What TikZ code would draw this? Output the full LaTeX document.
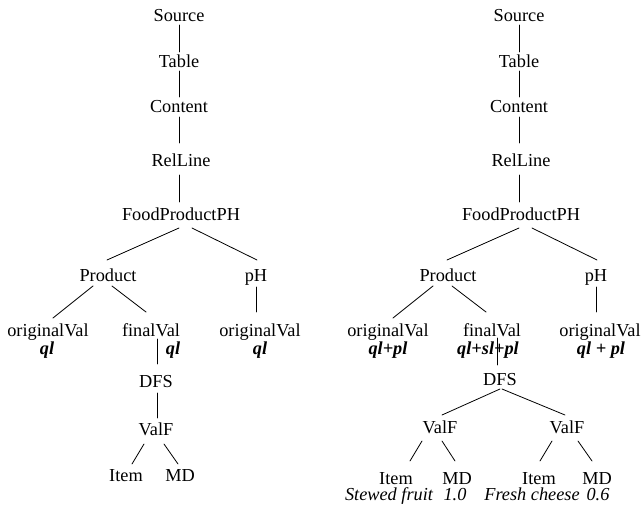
\documentclass[tikz,border=0pt]{standalone}
\usepackage{fontspec}
\setmainfont{Liberation Serif}
\usepackage{tikz}
\newcommand{\treefont}{\fontsize{18.3}{21}\selectfont}
\tikzset{
  nodetxt/.style={inner sep=0pt, text height=12pt, text depth=0pt, font=\treefont},
  valtxt/.style={nodetxt, font=\treefont\bfseries\itshape},
  extxt/.style={nodetxt, font=\treefont\itshape},
  branchln/.style={line width=0.8pt, line cap=round},
}
% connector between two named nodes, ends shifted off their centres
\newcommand{\branch}[4]{%
  \draw[branchln] ([shift={#2}]#1.center) -- ([shift={#4}]#3.center);
}

\begin{document}
\begin{tikzpicture}[x=1pt, y=-1pt]
    \useasboundingbox (0,0) rectangle (644,505);
    % left tree
    \node[nodetxt] (lsrc) at (179,16) {Source};
    \node[nodetxt] (ltab) at (179,62) {Table};
    \node[nodetxt] (lcon) at (179,107) {Content};
    \node[nodetxt] (lrel) at (181,160) {RelLine};
    \node[nodetxt] (lfood) at (181,214) {FoodProductPH};
    \node[nodetxt] (lprod) at (108,275) {Product};
    \node[nodetxt] (lph) at (256,275) {pH};
    \node[nodetxt] (lorig) at (48,330) {originalVal};
    \node[nodetxt] (lfin) at (151,330) {finalVal};
    \node[nodetxt] (lorigph) at (260,330) {originalVal};
    \node[nodetxt] (ldfs) at (156,381) {DFS};
    \node[nodetxt] (lvalf) at (156,429) {ValF};
    \node[nodetxt] (litem) at (126,475) {Item};
    \node[nodetxt] (lmd) at (180,475) {MD};
    % values of the left tree
    \node[valtxt] (lorigq) at (47,348) {ql};
    \node[valtxt] (lfinq) at (173,348) {ql};
    \node[valtxt] (lorigphq) at (260,348) {ql};
    \branch{lsrc}{(0,9)}{ltab}{(0,-10)}
    \branch{ltab}{(0,9)}{lcon}{(0,-10)}
    \branch{lcon}{(0,10)}{lrel}{(-2,-17)}
    \branch{lrel}{(-2,15)}{lfood}{(-2,-12)}
    \branch{lfood}{(-2,14)}{lprod}{(-1,-15)}
    \branch{lfood}{(11,14)}{lph}{(1,-15)}
    \branch{lprod}{(-15,11)}{lorig}{(5,-12)}
    \branch{lprod}{(4,11)}{lfin}{(-5,-18)}
    \branch{lph}{(0,12)}{lorigph}{(-4,-18)}
    \branch{lfin}{(6,9)}{ldfs}{(1,-17)}
    \branch{ldfs}{(1,12)}{lvalf}{(1,-11)}
    \branch{lvalf}{(-12,15)}{litem}{(6,-11)}
    \branch{lvalf}{(8,15)}{lmd}{(-2,-11)}
    % right tree
    \node[nodetxt] (rsrc) at (519,16) {Source};
    \node[nodetxt] (rtab) at (519,62) {Table};
    \node[nodetxt] (rcon) at (519,107) {Content};
    \node[nodetxt] (rrel) at (521,160) {RelLine};
    \node[nodetxt] (rfood) at (521,214) {FoodProductPH};
    \node[nodetxt] (rprod) at (448,275) {Product};
    \node[nodetxt] (rph) at (596,275) {pH};
    \node[nodetxt] (rorig) at (388,330) {originalVal};
    \node[nodetxt] (rfin) at (492,330) {finalVal};
    \node[nodetxt] (rorigph) at (600,330) {originalVal};
    \node[nodetxt] (rdfs) at (500,379) {DFS};
    \node[nodetxt] (rvalfa) at (440,427) {ValF};
    \node[nodetxt] (rvalfb) at (567,427) {ValF};
    \node[nodetxt] (ritema) at (396,478) {Item};
    \node[nodetxt] (rmda) at (457,478) {MD};
    \node[nodetxt] (ritemb) at (539,478) {Item};
    \node[nodetxt] (rmdb) at (597,478) {MD};
    % values of the right tree
    \node[valtxt] (rorigq) at (388,348) {ql+pl};
    \node[valtxt] (rfinq) at (488,348) {ql+sl+pl};
    \node[valtxt] (rorigphq) at (601,348) {ql + pl};
    % examples under the leaves
    \node[extxt] (rexitema) at (389,494) {Stewed fruit};
    \node[extxt] (rexmda) at (455,494) {1.0};
    \node[extxt] (rexitemb) at (532,494) {Fresh cheese};
    \node[extxt] (rexmdb) at (598,494) {0.6};
    \branch{rsrc}{(0,9)}{rtab}{(0,-10)}
    \branch{rtab}{(0,9)}{rcon}{(0,-10)}
    \branch{rcon}{(0,10)}{rrel}{(-2,-17)}
    \branch{rrel}{(-2,15)}{rfood}{(-2,-12)}
    \branch{rfood}{(-2,14)}{rprod}{(-1,-15)}
    \branch{rfood}{(11,14)}{rph}{(1,-15)}
    \branch{rprod}{(-15,11)}{rorig}{(5,-12)}
    \branch{rprod}{(4,11)}{rfin}{(-6,-18)}
    \branch{rph}{(0,12)}{rorigph}{(-4,-18)}
    \branch{rfin}{(5,8)}{rdfs}{(-3,-14)}
    \branch{rdfs}{(0,10)}{rvalfa}{(2,-12)}
    \branch{rdfs}{(2,10)}{rvalfb}{(-2,-12)}
    \branch{rvalfa}{(-18,14)}{ritema}{(14,-17)}
    \branch{rvalfa}{(2,14)}{rmda}{(-2,-17)}
    \branch{rvalfb}{(-15,14)}{ritemb}{(1,-17)}
    \branch{rvalfb}{(11,14)}{rmdb}{(-5,-17)}
\end{tikzpicture}
\end{document}
